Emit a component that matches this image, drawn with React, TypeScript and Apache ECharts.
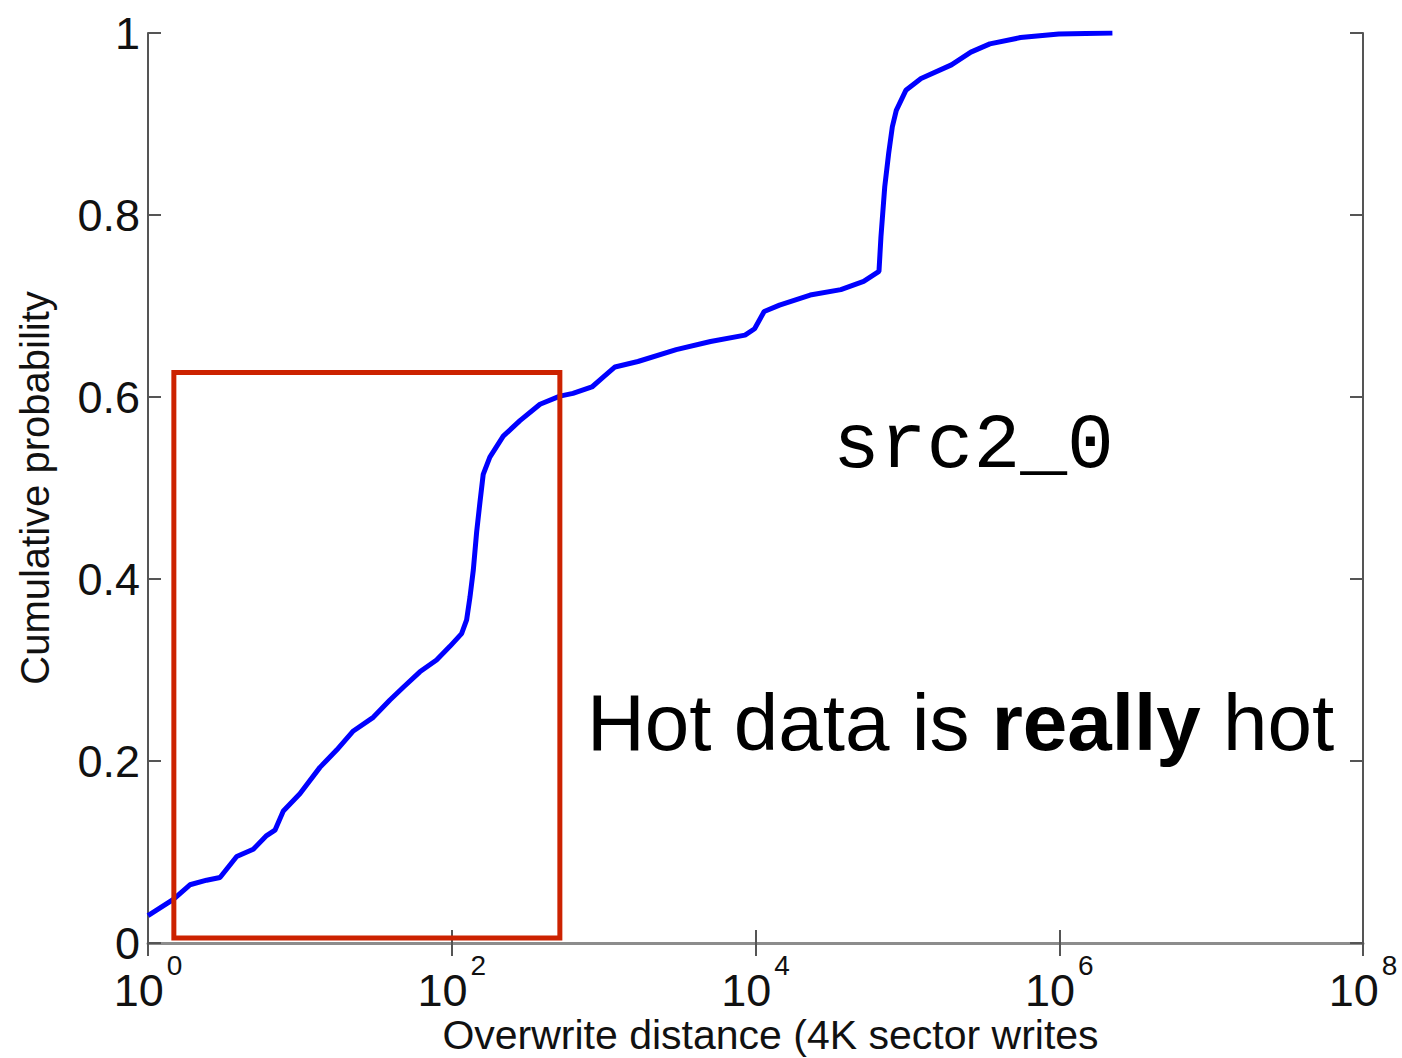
import React, { useEffect, useRef } from "react";
import * as echarts from "echarts";

// Overwrite distance (in 4K sector writes) and the cumulative probability reached there
const distance = [
  1, 1.469, 1.888, 2.432, 2.979, 3.837, 4.932, 6.039, 6.855, 7.78, 10, 13.55, 17.46, 22.49,
  30.41, 39.17, 47.97, 61.66, 79.43, 97.28, 116.1, 125.3, 131.8, 138.7, 145.9, 153.5, 161.1,
  178.2, 218.3, 281.2, 381.1, 515.2, 628.1, 837.5, 997.7, 1188.5, 1682.7, 3006, 5058, 8531,
  9863, 11402, 14388, 22909, 36475, 51523, 65013, 66988, 70958, 75336, 79621, 84528, 97724,
  123027, 194984, 261818, 349140, 555904, 993116, 2238721,
];
const cumulative = [
  0.03, 0.048, 0.064, 0.069, 0.072, 0.095, 0.103, 0.118, 0.124, 0.145, 0.164, 0.193, 0.212,
  0.233, 0.248, 0.267, 0.281, 0.298, 0.311, 0.326, 0.34, 0.355, 0.38, 0.41, 0.452, 0.485,
  0.515, 0.534, 0.557, 0.574, 0.592, 0.601, 0.604, 0.611, 0.622, 0.633, 0.639, 0.652, 0.661,
  0.668, 0.675, 0.694, 0.701, 0.712, 0.718, 0.727, 0.738, 0.776, 0.831, 0.868, 0.897, 0.915,
  0.937, 0.95, 0.965, 0.979, 0.988, 0.995, 0.999, 1.0,
];

// Highlighted "hot" region: distance range and probability range
const hotDistance = [1.48, 515];
const hotProbability = [0.0055, 0.627];

const traceName = "src2_0";
const headline = ["Hot data is ", "really", " hot"];
const xAxisTitle = "Overwrite distance (4K sector writes";
const yAxisTitle = "Cumulative probability";

const SANS = '"Liberation Sans", Arial, Helvetica, sans-serif';
const AXIS_COLOR = "#555";

export default function App() {
  const ref = useRef<HTMLDivElement>(null);

  useEffect(() => {
    document.body.style.margin = "0";
    if (!ref.current) return;
    const chart = echarts.init(ref.current, undefined, { renderer: "svg" });

    const logAxisBase = {
      type: "log" as const,
      logBase: 10,
      min: 1,
      max: 1e8,
      interval: 2,
      splitNumber: 8,
      splitLine: { show: false },
      minorTick: { show: false },
      axisLine: { show: true, lineStyle: { color: AXIS_COLOR, width: 2 } },
      axisTick: { show: true, inside: true, length: 13, lineStyle: { color: AXIS_COLOR, width: 2 } },
    };
    const probAxisBase = {
      type: "value" as const,
      min: 0,
      max: 1,
      interval: 0.2,
      splitLine: { show: false },
      axisLine: { show: true, lineStyle: { color: AXIS_COLOR, width: 2 } },
      axisTick: { show: true, inside: true, length: 13, lineStyle: { color: AXIS_COLOR, width: 2 } },
    };

    chart.setOption({
      animation: false,
      backgroundColor: "#fff",
      grid: { left: 148, right: 39, top: 33, bottom: 115, containLabel: false, outerBoundsMode: "none" },
      xAxis: [
        {
          ...logAxisBase,
          position: "bottom",
          name: xAxisTitle,
          nameLocation: "middle",
          nameGap: 71,
          nameMoveOverlap: false,
          nameTextStyle: { fontFamily: SANS, fontSize: 41, color: "#111", padding: [0, 0, 0, 30] },
          axisLabel: {
            show: true,
            margin: 30,
            showMinLabel: true,
            showMaxLabel: true,
            formatter: (v: number) => `{b|10}{e|${Math.round(Math.log10(v))}}`,
            rich: {
              b: { fontFamily: SANS, fontSize: 45, lineHeight: 40, color: "#111", verticalAlign: "bottom" },
              e: {
                fontFamily: SANS,
                fontSize: 28,
                lineHeight: 28,
                color: "#111",
                verticalAlign: "bottom",
                padding: [0, 0, 34, 3],
              },
            },
          },
        },
        {
          ...logAxisBase,
          position: "top",
          axisLine: { show: true, lineStyle: { color: "#8c8c8c", width: 3 } },
          axisLabel: { show: false },
        },
      ],
      yAxis: [
        {
          ...probAxisBase,
          position: "left",
          name: yAxisTitle,
          nameLocation: "middle",
          nameGap: 93,
          nameMoveOverlap: false,
          nameTextStyle: { fontFamily: SANS, fontSize: 40, color: "#111" },
          axisLabel: { show: true, margin: 8, fontFamily: SANS, fontSize: 45, color: "#111" },
        },
        {
          ...probAxisBase,
          position: "right",
          axisLabel: { show: false },
        },
      ],
      series: [
        {
          type: "line",
          xAxisIndex: 0,
          yAxisIndex: 0,
          data: distance.map((d, i) => [d, cumulative[i]]),
          showSymbol: false,
          lineStyle: { color: "#0000ff", width: 5 },
          z: 2,
          markArea: {
            silent: true,
            z: 5,
            itemStyle: { color: "rgba(0,0,0,0)", borderColor: "#cc2200", borderWidth: 5 },
            data: [
              [
                { coord: [hotDistance[0], hotProbability[0]] },
                { coord: [hotDistance[1], hotProbability[1]] },
              ],
            ],
          },
        },
      ],
      graphic: [
        {
          type: "text",
          x: 833,
          y: 446,
          z: 10,
          style: {
            text: traceName,
            font: '78px "Liberation Mono", "Courier New", monospace',
            fill: "#000",
            align: "left",
            verticalAlign: "middle",
          },
        },
        {
          type: "text",
          x: 587,
          y: 722,
          z: 10,
          style: {
            text: `{n|${headline[0]}}{b|${headline[1]}}{n|${headline[2]}}`,
            align: "left",
            verticalAlign: "middle",
            rich: {
              n: { fontFamily: SANS, fontSize: 80, fontWeight: "normal", fill: "#000", lineHeight: 90 },
              b: { fontFamily: SANS, fontSize: 80, fontWeight: "bold", fill: "#000", lineHeight: 90 },
            },
          },
        },
      ],
    });

    return () => chart.dispose();
  }, []);

  return (
    <div
      ref={ref}
      style={{ position: "fixed", left: 0, top: 0, width: 1402, height: 1058, background: "#fff" }}
    />
  );
}
